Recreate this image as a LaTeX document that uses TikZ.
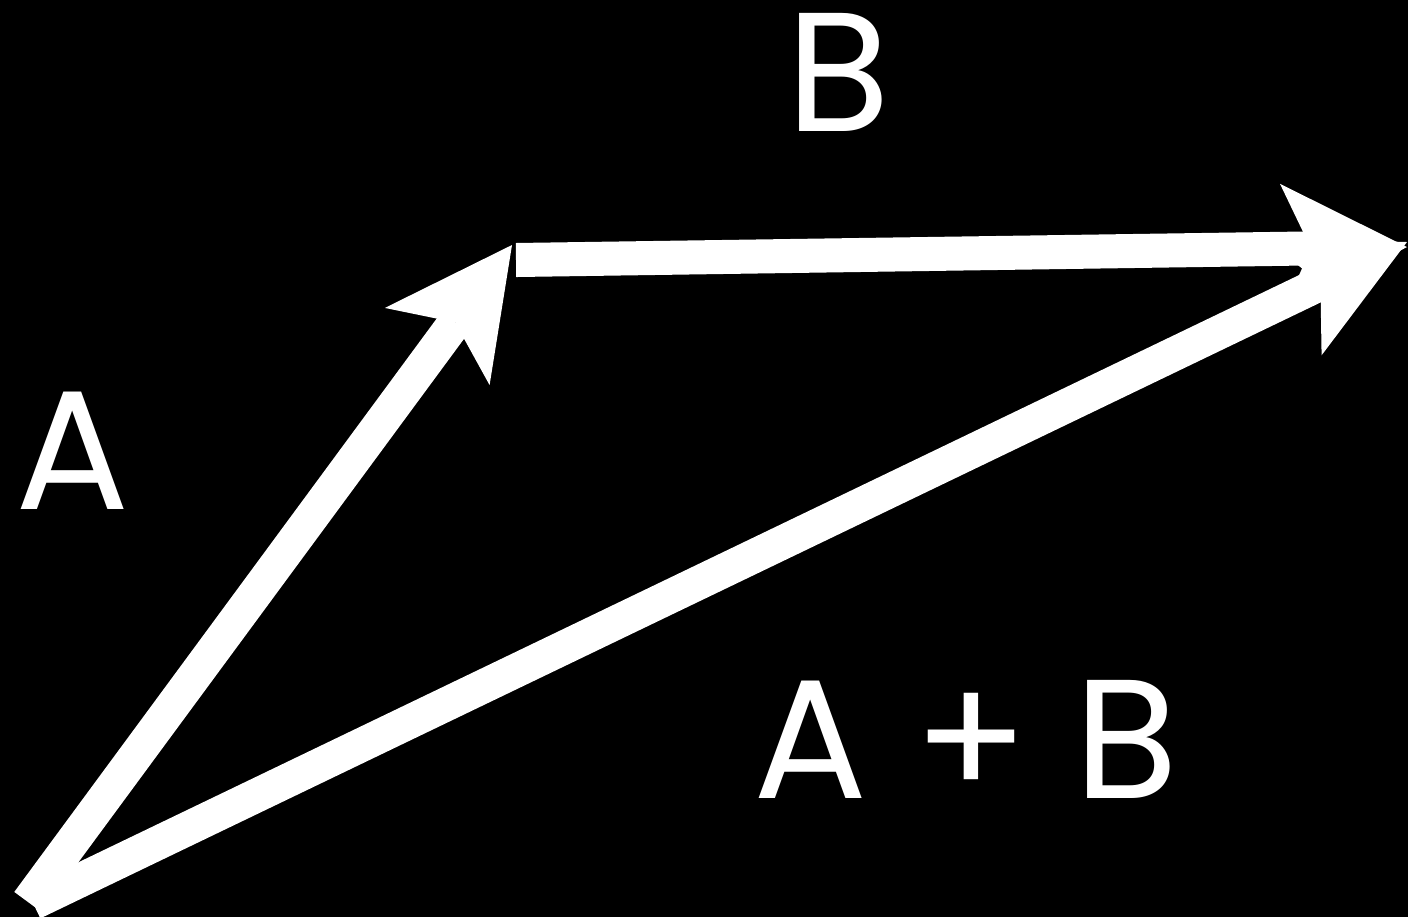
\documentclass[tikz,border=0pt]{standalone}
\usepackage{fontspec}
\setmainfont{Poppins}
\usetikzlibrary{arrows.meta}
\begin{document}
\begin{tikzpicture}[x=0.01cm,y=-0.01cm,
  vec/.style={draw=white, line width=0.34cm, line cap=butt,
    -{Stealth[length=1.26cm, width=1.30cm, inset=0.30cm, line width=0pt]}},
  lbl/.style={text=white, font=\fontsize{48.2}{58}\selectfont, inner sep=0pt, anchor=base}]
\fill[black] (0,0) rectangle (1408,917);
\useasboundingbox (0,0) rectangle (1408,917);
\coordinate (oA) at (28,902);
\coordinate (oS) at (33,903);
\coordinate (tA) at (512,245);
\coordinate (oB) at (516,260);
\coordinate (tB) at (1407,247);
\coordinate (tS) at (1407,242);
\draw[vec] (oA) -- (tA);
\draw[vec] (oB) -- (tB);
\draw[vec] (oS) -- (tS);
\node[lbl] (labA) at (73,509) {A};
\node[lbl] (labB) at (838,131) {B};
\node[lbl] (labS) at (966,798) {A + B};
\end{tikzpicture}
\end{document}
